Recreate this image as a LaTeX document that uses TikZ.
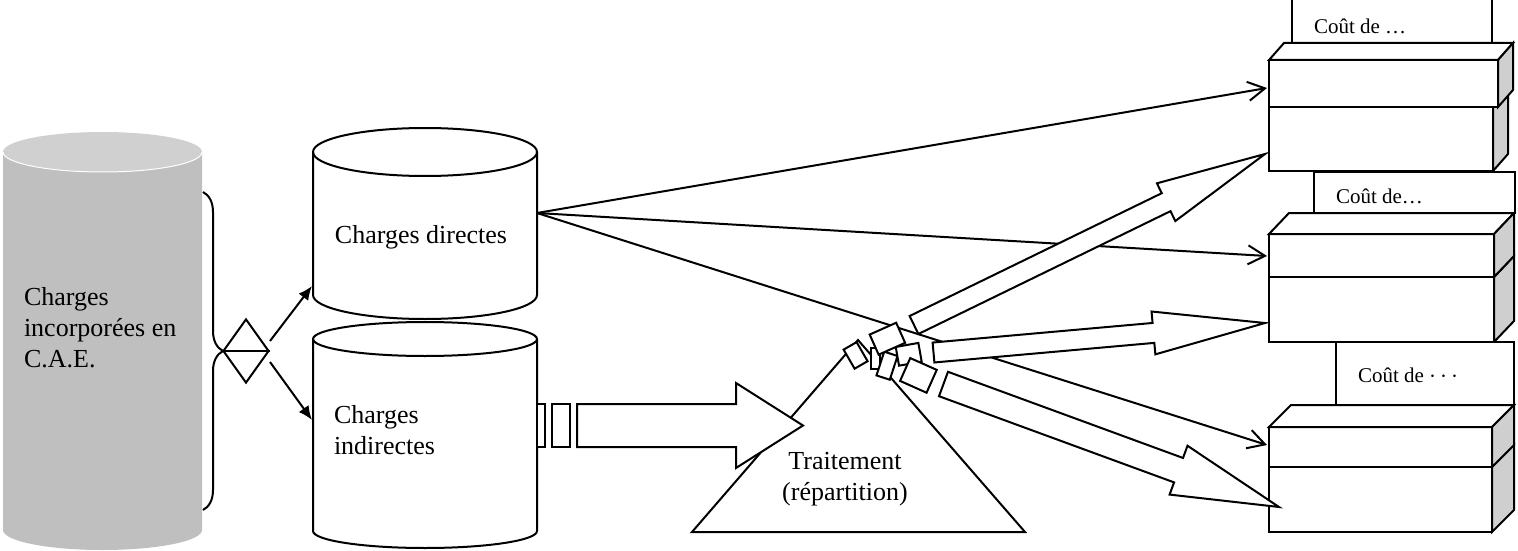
\documentclass[tikz,border=0pt]{standalone}
\usepackage{fontspec}
\setmainfont{Liberation Serif}
\usetikzlibrary{positioning}
\usetikzlibrary{arrows.meta}
\usetikzlibrary{calc}
\usetikzlibrary{shapes.geometric}
\usetikzlibrary{decorations.pathreplacing}

\definecolor{cylgray}{HTML}{BFBFBF}
\definecolor{cyltop}{HTML}{D0D0D0}
\definecolor{sidegray}{HTML}{CFCFCF}

\tikzset{
  fat shaft/.store in=\shaftw, fat shaft=10pt,
  fat head/.store in=\headw, fat head=21pt,
  fat reach/.store in=\headl, fat reach=110pt,
  fat arrow/.style={draw, fill=white, to path={
    ($(\tikztostart)!\shaftw!90:(\tikztotarget)$)
    -- ($(\tikztotarget)!\headl!(\tikztostart)!\shaftw!-90:(\tikztostart)$)
    -- ($(\tikztotarget)!\headl!(\tikztostart)!\headw!-90:(\tikztostart)$)
    -- (\tikztotarget)
    -- ($(\tikztotarget)!\headl!(\tikztostart)!\headw!90:(\tikztostart)$)
    -- ($(\tikztotarget)!\headl!(\tikztostart)!\shaftw!90:(\tikztostart)$)
    -- ($(\tikztostart)!\shaftw!-90:(\tikztotarget)$)
    -- cycle}},
  piece/.style={draw, fill=white, rectangle, inner sep=0pt},
  big/.style={font=\fontsize{26}{31}\selectfont},
  small/.style={font=\fontsize{21}{25}\selectfont},
  barb/.style={-{Straight Barb[length=17pt,width=19pt]}},
  fork/.style={-{Latex[length=14pt,width=12pt]}}
}

\begin{document}
\begin{tikzpicture}[x=1pt, y=1pt, line width=2pt]
  \useasboundingbox (0,0) rectangle (1518,-551);

  % grey store on the left
  \fill[cylgray] (3,-152) -- (3,-530) arc[start angle=180, end angle=360, x radius=99.5, y radius=20] -- (202,-152) -- cycle;
  \fill[cyltop] (102.5,-152) ellipse [x radius=99.5, y radius=20];
  \draw[white, line width=1pt] (3,-152) arc[start angle=180, end angle=360, x radius=99.5, y radius=20];
  \node[big, align=left, anchor=west, inner sep=0pt] (cae) at (23,-328) {Charges\\incorporées en\\C.A.E.};

  % brace and split
  \draw[decorate, decoration={brace, amplitude=20pt}] (203,-192) -- (203,-510);
  \node[diamond, draw, minimum width=46pt, minimum height=64pt, inner sep=0pt] (split) at (246,-351) {};
  \draw (split.west) -- (split.east);

  % two stores
  \foreach \t/\b/\r in {152/295/24, 339/531/17} {
    \draw[fill=white] (313,-\t) -- (313,-\b) arc[start angle=180, end angle=360, x radius=112, y radius=\r]
      -- (537,-\t) arc[start angle=0, end angle=180, x radius=112, y radius=\r] -- cycle;
    \draw (313,-\t) arc[start angle=180, end angle=360, x radius=112, y radius=\r];
  }
  \node[big, inner sep=0pt] (directes) at (421,-237) {Charges directes};
  \node[big, align=left, anchor=west, inner sep=0pt] (indirectes) at (333,-430) {Charges\\indirectes};

  \coordinate (ddir) at (312,-286);
  \coordinate (dind) at (312,-420);
  \draw[fork] ($(split.east)+(0,10)$) -- (ddir);
  \draw[fork] ($(split.east)+(0,-11)$) -- (dind);

  % processing
  \coordinate (apex) at (858,-340);
  \draw (692,-532) -- (1025,-532) -- (apex) -- cycle;
  \node[big, align=center, inner sep=0pt] (trait) at (845,-479) {Traitement\\(répartition)};

  % entry points
  \coordinate (dout) at (537,-213);
  \coordinate (in1a) at (1267,-88);
  \coordinate (in1b) at (1265,-154);
  \coordinate (in2a) at (1267,-256);
  \coordinate (in2b) at (1265,-323);
  \coordinate (in3a) at (1267,-445);
  \coordinate (in3b) at (1279,-507);

  \foreach \e in {in1a, in2a, in3a}
    \draw[barb] (dout) -- (\e);

  % cost boxes
  \foreach \lx/\lr/\ly/\ty/\ft/\fm/\fb/\rt/\rb/\dx/\dy/\txt [count=\g] in {
      1292/1492/10/26/60/107/171/1498/1493/15/17/{Coût de …},
      1314/1515/-172/196/234/277/342/1494/1494/20/21/{Coût de…},
      1336/1514/-342/375/427/467/532/1492/1492/22/22/{Coût de {\fontsize{28}{28}\selectfont$\cdots$}}} {
    \draw[fill=white] (\lx,\ly) rectangle (\lr,{\dy-\ft});
    \node[small, anchor=west, inner sep=0pt] (label\g) at ({\lx+21},-\ty) {\txt};
    \draw[fill=white] (1269,-\fm) rectangle (\rb,-\fb);
    \draw[fill=sidegray] (\rb,-\fm) -- ({\rb+\dx},{\dy-\fm}) -- ({\rb+\dx},{\dy-\fb}) -- (\rb,-\fb) -- cycle;
    \draw[fill=white] (1269,-\ft) rectangle (\rt,-\fm);
    \draw[fill=white] (1269,-\ft) -- ({1269+\dx},{\dy-\ft}) -- ({\rt+\dx},{\dy-\ft}) -- (\rt,-\ft) -- cycle;
    \draw[fill=sidegray] (\rt,-\ft) -- ({\rt+\dx},{\dy-\ft}) -- ({\rt+\dx},{\dy-\fm}) -- (\rt,-\fm) -- cycle;
  }

  % fat arrows
  \coordinate (ta) at (577,-425.5);
  \coordinate (ma) at (803,-425.5);
  \draw[fat arrow, fat shaft=21.5pt, fat head=42.5pt, fat reach=67pt] (ta) to (ma);
  \foreach \a/\b in {537/545, 552/570}
    \draw[fill=white] (\a,-404) rectangle (\b,-447);

  \coordinate (tb) at (914,-325);
  \coordinate (tg) at (933.5,-352.5);
  \coordinate (td) at (943.5,-384);
  \draw[fat arrow, fat shaft=10pt, fat head=21pt, fat reach=110pt] (tb) to (in1b);
  \draw[fat arrow, fat shaft=10pt, fat head=21.5pt, fat reach=112pt] (tg) to (in2b);
  \draw[fat arrow, fat shaft=13pt, fat head=26pt, fat reach=107pt] (td) to (in3b);

  % broken bits at the apex
  \foreach \cx/\cy/\w/\h/\ang [count=\i] in {875/358/9/21/0, 887/365.7/14/25/-18,
      908.7/354.3/23/19/10, 918.4/375.4/29/25/-24, 887.4/338.7/29/22/24, 855.6/355.4/15/22/30}
    \node[piece, minimum width=\w, minimum height=\h, rotate=\ang] (bit\i) at (\cx,-\cy) {};
\end{tikzpicture}
\end{document}
